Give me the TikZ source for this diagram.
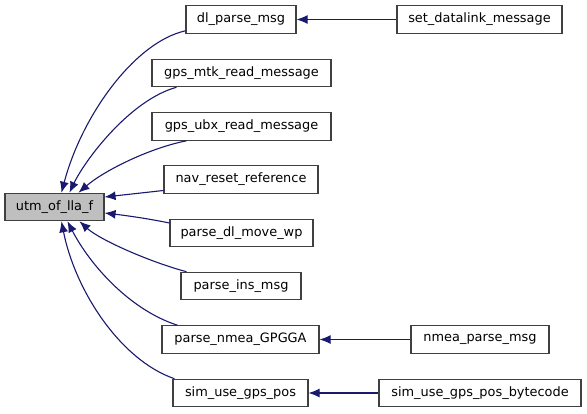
\documentclass[tikz,border=0pt]{standalone}
\usepackage{fontspec}
\setmainfont{DejaVu Sans}
\usetikzlibrary{arrows.meta,calc}
\definecolor{edgec}{HTML}{191970}
\definecolor{boxline}{HTML}{404040}
\begin{document}
\begin{tikzpicture}[x=1pt,y=-1pt,
  box/.style={draw=boxline, line width=1.1pt, minimum height=27.5pt, inner sep=0pt,
    font=\fontsize{12.9}{14}\selectfont, text=black, fill=white},
  edge/.style={draw=edgec, line width=1.1pt, {Latex[length=11pt,width=9pt]}-}]
\useasboundingbox (0,0) rectangle (587,413);
\fill[white] (0,0) rectangle (587,413);

\node[box, fill=black!25, minimum width=99pt] (utm) at (54.5,207) {utm\_of\_lla\_f};
\node[box, minimum width=110pt] (dl) at (241,19.5) {dl\_parse\_msg};
\node[box, minimum width=179pt] (mtk) at (241.5,73) {gps\_mtk\_read\_message};
\node[box, minimum width=179pt] (ubx) at (241.5,126.5) {gps\_ubx\_read\_message};
\node[box, minimum width=154pt] (nav) at (241,179.5) {nav\_reset\_reference};
\node[box, minimum width=143pt] (move) at (241.5,233) {parse\_dl\_move\_wp};
\node[box, minimum width=120pt] (ins) at (241,286) {parse\_ins\_msg};
\node[box, minimum width=157pt] (gga) at (240.5,339.5) {parse\_nmea\_GPGGA};
\node[box, minimum width=135pt] (sim) at (240.5,393) {sim\_use\_gps\_pos};
\node[box, minimum width=165pt] (setdl) at (479.5,19.5) {set\_datalink\_message};
\node[box, minimum width=138pt] (nmeap) at (480,339.5) {nmea\_parse\_msg};
\node[box, minimum width=202pt] (byte) at (480,393) {sim\_use\_gps\_pos\_bytecode};

\draw[edge] ([xshift=57pt]utm.north west) .. controls (82,115) and (135,42) .. ([yshift=3pt]dl.south west);
\draw[edge] ([xshift=65pt]utm.north west) .. controls (85,160) and (130,100) .. ([xshift=25pt]mtk.south west);
\draw[edge] ([xshift=74pt]utm.north west) .. controls (105,170) and (150,148) .. ([xshift=35pt]ubx.south west);
\draw[edge] ([yshift=10pt]utm.east) -- ([yshift=-11pt]nav.west);
\draw[edge] ([yshift=-6pt]utm.east) .. controls (130,216) and (150,219) .. ([yshift=10pt]move.west);
\draw[edge] ([xshift=75pt]utm.south west) .. controls (100,240) and (150,262) .. ([xshift=6pt]ins.north west);
\draw[edge] ([xshift=63pt]utm.south west) .. controls (90,265) and (130,310) .. ([xshift=16pt]gga.north west);
\draw[edge] ([xshift=57pt]utm.south west) .. controls (75,290) and (120,360) .. ([xshift=2pt]sim.north west);

\draw[edge] (dl.east) -- (setdl.west);
\draw[edge] (gga.east) -- (nmeap.west);
\draw[edge] (sim.east) -- (byte.west);
\end{tikzpicture}
\end{document}
